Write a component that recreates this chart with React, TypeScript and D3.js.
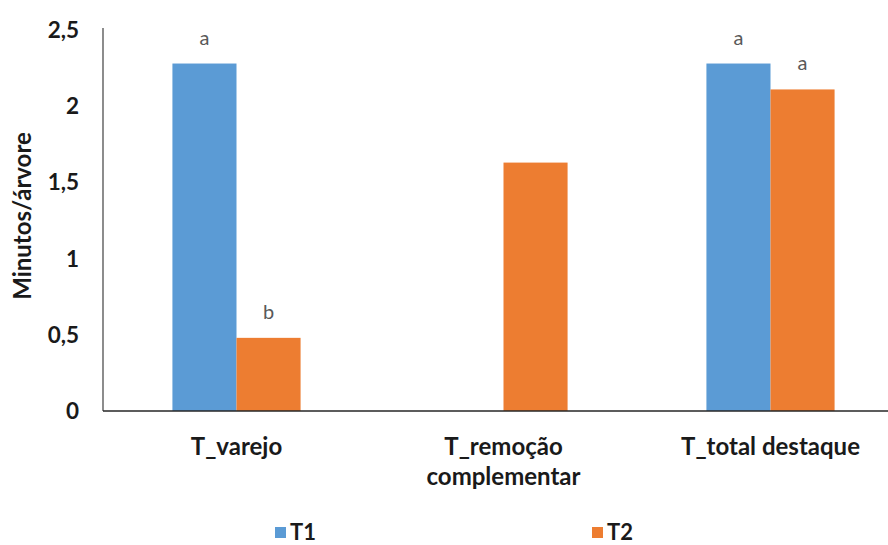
import React from "react";
import * as d3 from "d3";

const categories = ["T_varejo", "T_remoção complementar", "T_total destaque"];
const categoryLines = [["T_varejo"], ["T_remoção", "complementar"], ["T_total destaque"]];
const seriesNames = ["T1", "T2"];
const t1Values = [2.28, 0, 2.28];
const t2Values = [0.48, 1.63, 2.11];
const t1Letters = ["a", "", "a"];
const t2Letters = ["b", "", "a"];
const yTicks = [0, 0.5, 1, 1.5, 2, 2.5];
const colors = ["#5B9BD5", "#ED7D31"];

const W = 888;
const H = 545;
const FONT = "Lato, 'Open Sans', sans-serif";

export default function App() {
  const left = 103;
  const top = 30;
  const bottom = 411;
  const x = d3
    .scaleBand<string>()
    .domain(categories)
    .range([left, 904])
    .paddingInner(0.52)
    .paddingOuter(0.26);
  const xs = d3.scaleBand<string>().domain(seriesNames).range([0, x.bandwidth()]);
  const y = d3.scaleLinear().domain([0, 2.5]).range([bottom, top]);
  const fmt = (v: number) => String(v).replace(".", ",");
  const series = [
    { name: "T1", values: t1Values, letters: t1Letters },
    { name: "T2", values: t2Values, letters: t2Letters },
  ];
  const legendX = [275, 592];

  return (
    <svg
      width={W}
      height={H}
      style={{ position: "absolute", left: 0, top: 0, display: "block", background: "#fff" }}
      fontFamily={FONT}
    >
      {series.map((s, si) =>
        categories.map((c, ci) =>
          s.values[ci] > 0 ? (
            <rect
              key={s.name + c}
              x={(x(c) as number) + (xs(s.name) as number)}
              y={y(s.values[ci])}
              width={xs.bandwidth()}
              height={bottom - y(s.values[ci])}
              fill={colors[si]}
            />
          ) : null
        )
      )}
      {series.map((s) =>
        categories.map((c, ci) =>
          s.letters[ci] ? (
            <text
              key={"l" + s.name + c}
              x={(x(c) as number) + (xs(s.name) as number) + xs.bandwidth() / 2}
              y={y(s.values[ci]) - 19}
              textAnchor="middle"
              fontSize={20}
              fill="#595959"
            >
              {s.letters[ci]}
            </text>
          ) : null
        )
      )}
      <line x1={left} x2={left} y1={top - 2} y2={bottom} stroke="#404040" strokeWidth={1.2} />
      <line x1={left} x2={W} y1={bottom} y2={bottom} stroke="#262626" strokeWidth={1.5} />
      {yTicks.map((t) => (
        <text
          key={"t" + t}
          x={79}
          y={y(t) + 8}
          textAnchor="end"
          fontSize={22.5}
          fontWeight="bold"
          fill="#1a1a1a"
        >
          {fmt(t)}
        </text>
      ))}
      <text
        transform={`translate(31,216) rotate(-90)`}
        textAnchor="middle"
        fontSize={24}
        fontWeight="bold"
        fill="#1a1a1a"
      >
        Minutos/árvore
      </text>
      {categories.map((c, ci) => (
        <text
          key={"c" + c}
          x={(x(c) as number) + x.bandwidth() / 2}
          y={455}
          textAnchor="middle"
          fontSize={24}
          fontWeight="bold"
          fill="#1a1a1a"
        >
          {categoryLines[ci].map((ln, li) => (
            <tspan key={li} x={(x(c) as number) + x.bandwidth() / 2} dy={li === 0 ? 0 : 30}>
              {ln}
            </tspan>
          ))}
        </text>
      ))}
      {seriesNames.map((n, i) => (
        <g key={"lg" + n}>
          <rect x={legendX[i]} y={527} width={11} height={11} fill={colors[i]} />
          <text x={legendX[i] + 15} y={540} fontSize={22} fontWeight="bold" fill="#1a1a1a">
            {n}
          </text>
        </g>
      ))}
    </svg>
  );
}
